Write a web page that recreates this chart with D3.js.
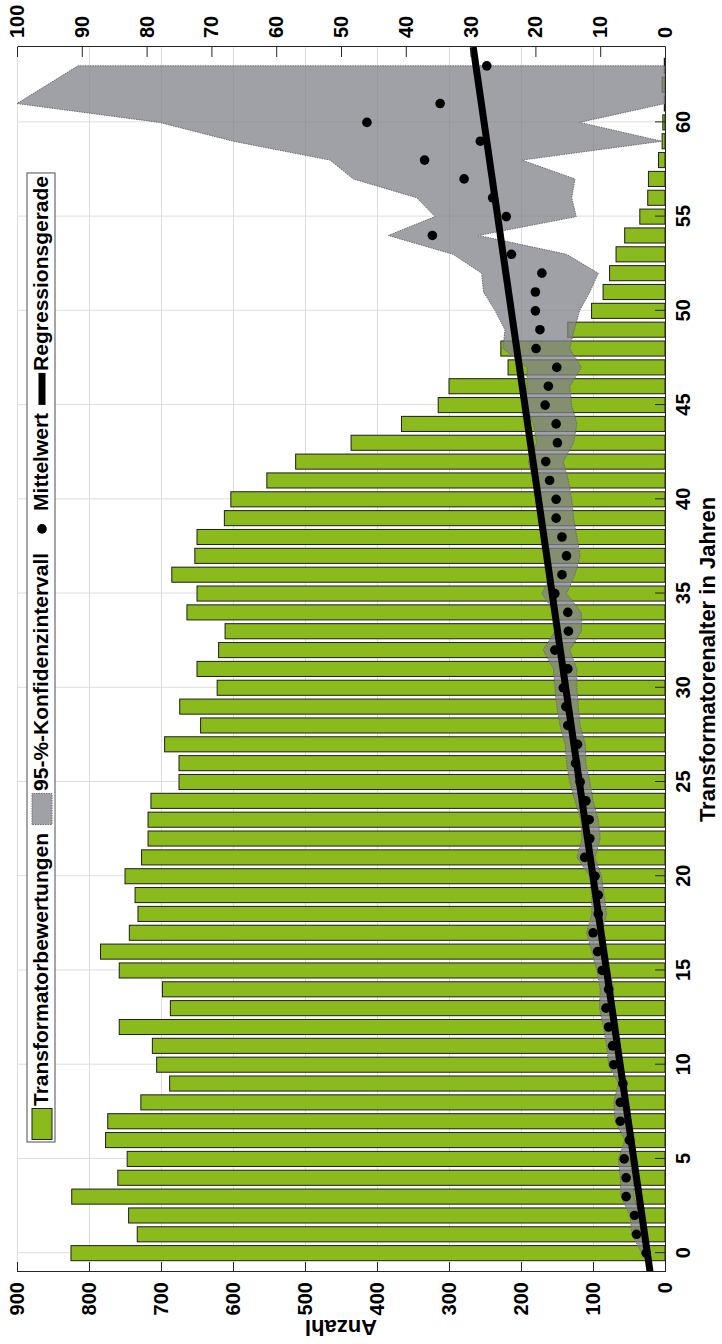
<!DOCTYPE html>
<html>
<head>
<meta charset="utf-8">
<script src="https://cdn.jsdelivr.net/npm/d3@7"></script>
<style>
  body { margin: 0; background: #fff; }
  text { font-family: "Liberation Sans", Arial, sans-serif; font-weight: bold; }
</style>
</head>
<body>
<svg id="chart" width="722" height="1344"></svg>
<script>
// transformer age classes (years)
var ages = d3.range(0, 64)

// number of assessments per age (left axis, "Anzahl")
var anzahl = [825, 733, 745, 824, 760, 747, 777, 774, 728, 688,
              706, 712, 758, 687, 698, 758, 784, 744, 732, 736,
              750, 727, 718, 718, 714, 675, 675, 695, 645, 674,
              622, 650, 620, 611, 664, 650, 685, 653, 650, 612,
              603, 553, 513, 436, 366, 315, 300, 218, 228, 135,
              102, 86, 77, 68, 56, 35, 24, 23, 9, 4,
              3, 1, 4, 1]

// mean value per age (right axis)
var mittelwert = [2.9, 4.4, 4.7, 6.0, 6.0, 6.3, 5.5, 6.9, 6.9, 6.5,
                  7.9, 8.1, 8.7, 9.1, 8.7, 9.7, 10.4, 11.1, 10.3, 10.3,
                  10.8, 12.4, 11.6, 11.7, 12.2, 13.1, 13.8, 13.5, 15.0, 15.3,
                  15.7, 15.0, 17.0, 14.9, 15.0, 17.0, 15.9, 15.2, 15.9, 16.8,
                  16.8, 17.8, 18.4, 16.6, 16.8, 18.5, 18.0, 16.7, 19.9, 19.3,
                  20.0, 20.0, 19.0, 23.7, 35.9, 24.5, 26.6, 31.0, 37.1, 28.5,
                  46.0, 34.7, null, 27.5]

// 95 % confidence interval, upper and lower bound
var ciOben = [3.6, 5.1, 5.4, 6.8, 6.9, 7.2, 6.2, 7.7, 7.9, 7.2,
              8.7, 9.0, 9.5, 10.1, 10.0, 10.5, 11.3, 12.1, 11.3, 11.3,
              11.6, 13.6, 12.8, 13.0, 13.9, 14.7, 15.2, 15.4, 16.2, 16.7,
              17.0, 17.2, 18.8, 17.0, 17.0, 19.0, 17.5, 17.7, 18.4, 19.3,
              19.8, 20.3, 21.1, 19.8, 20.3, 21.6, 21.3, 21.3, 25.0, 24.7,
              26.2, 28.0, 28.3, 32.7, 42.7, 35.5, 38.3, 48.1, 51.7, 66.6,
              78.0, 100, null, 90.6]
var ciUnten = [2.4, 3.6, 3.9, 4.8, 4.9, 5.4, 4.6, 6.0, 6.2, 5.8,
               7.1, 7.4, 7.9, 8.4, 7.9, 8.5, 9.3, 9.8, 9.0, 9.4,
               9.8, 10.8, 10.0, 10.3, 11.1, 11.6, 12.2, 12.3, 13.1, 13.4,
               13.6, 13.6, 14.7, 12.9, 12.9, 15.2, 13.9, 13.1, 13.6, 14.1,
               14.4, 14.9, 15.7, 14.1, 13.6, 14.4, 14.7, 12.9, 14.7, 14.0,
               13.2, 11.6, 10.3, 15.2, 28.8, 13.7, 14.4, 13.9, 22.1, 0.5,
               13.2, 0, null, 0]

// regression line end points (age, value)
var regX = [-1, 64]
var regY = [2.3, 29.6]

var ageTicks = [0, 5, 10, 15, 20, 25, 30, 35, 40, 45, 50, 55, 60]
var anzahlTicks = [0, 100, 200, 300, 400, 500, 600, 700, 800, 900]
var rechtsTicks = [0, 10, 20, 30, 40, 50, 60, 70, 80, 90, 100]
var legendLabels = ["Transformatorbewertungen", "95-%-Konfidenzintervall", "Mittelwert", "Regressionsgerade"]

// the figure is drawn in landscape and then turned by -90 degrees
var width = 1344, height = 722
var margin = {top: 17, right: 47, bottom: 57, left: 72}

var svg = d3.select('#chart')
var g = svg.append('g').attr('transform', 'translate(0,1344) rotate(-90)')

var x = d3.scaleLinear().domain([-1, 64]).range([margin.left, width - margin.right])
var yL = d3.scaleLinear().domain([0, 900]).range([height - margin.bottom, margin.top])
var yR = d3.scaleLinear().domain([0, 100]).range([height - margin.bottom, margin.top])

g.append('clipPath').attr('id', 'plotClip')
  .append('rect')
  .attr('x', margin.left).attr('y', margin.top)
  .attr('width', width - margin.left - margin.right)
  .attr('height', height - margin.top - margin.bottom)

// grid
var grid = g.append('g').attr('stroke', '#dedede').attr('stroke-width', 1)
grid.selectAll('.gx').data(ageTicks).join('line').attr('class', 'gx')
  .attr('x1', d => x(d) + 0.5).attr('x2', d => x(d) + 0.5)
  .attr('y1', yL(0)).attr('y2', yL(900))
grid.selectAll('.gy').data(anzahlTicks.filter(d => d > 0)).join('line').attr('class', 'gy')
  .attr('x1', x(-1)).attr('x2', x(64))
  .attr('y1', d => yL(d) + 0.5).attr('y2', d => yL(d) + 0.5)

// bars
var bw = (x(1) - x(0)) * 0.8
g.append('g').selectAll('rect')
  .data(ages)
  .join('rect')
  .attr('x', d => x(d) - bw / 2)
  .attr('width', bw)
  .attr('y', (d, i) => yL(anzahl[i]))
  .attr('height', (d, i) => yL(0) - yL(anzahl[i]))
  .attr('fill', '#8bba1c')
  .attr('stroke', '#1e1e1e')
  .attr('stroke-width', 1)

var plot = g.append('g').attr('clip-path', 'url(#plotClip)')

// confidence band (age 62 has no value, the band just skips it)
var ciAges = ages.filter(a => ciOben[a] != null)
var area = d3.area()
  .x(d => x(d))
  .y0(d => yR(ciUnten[d]))
  .y1(d => yR(ciOben[d]))
plot.append('path')
  .datum(ciAges)
  .attr('d', area)
  .attr('fill', '#80808a')
  .attr('fill-opacity', 0.75)
  .attr('stroke', '#6a6a6a')
  .attr('stroke-width', 1)
  .attr('stroke-dasharray', '1.5,1')

// means
plot.append('g').selectAll('circle')
  .data(ages.filter(a => mittelwert[a] != null))
  .join('circle')
  .attr('cx', d => x(d))
  .attr('cy', d => yR(mittelwert[d]))
  .attr('r', 4.8)
  .attr('fill', '#000')

// regression line
plot.append('path')
  .datum(regX)
  .attr('d', d3.line().x(d => x(d)).y((d, i) => yR(regY[i])))
  .attr('stroke', '#000')
  .attr('stroke-width', 7)
  .attr('fill', 'none')

// axes
function styleAxis(sel) {
  sel.attr('font-size', null).attr('font-family', null)
  sel.selectAll('text').attr('font-size', 20).attr('fill', '#000')
  sel.selectAll('line, path').attr('stroke', '#262626')
}

g.append('g')
  .attr('transform', 'translate(0,' + (height - margin.bottom) + ')')
  .call(d3.axisBottom(x).tickValues(ageTicks).tickSizeInner(-10).tickSizeOuter(0).tickPadding(11))
  .call(styleAxis)

g.append('g')
  .attr('transform', 'translate(' + margin.left + ',0)')
  .call(d3.axisLeft(yL).tickValues(anzahlTicks).tickSizeInner(-10).tickSizeOuter(0).tickPadding(10))
  .call(styleAxis)

g.append('g')
  .attr('transform', 'translate(' + (width - margin.right) + ',0)')
  .call(d3.axisRight(yR).tickValues(rechtsTicks).tickSizeInner(-10).tickSizeOuter(0).tickPadding(9))
  .call(styleAxis)

// axis titles
g.append('text')
  .attr('x', (margin.left + width - margin.right) / 2)
  .attr('y', 715)
  .attr('text-anchor', 'middle')
  .attr('font-size', 22)
  .text('Transformatorenalter in Jahren')

g.append('text')
  .attr('transform', 'translate(24,' + (margin.top + height - margin.bottom) / 2 + ') rotate(-90)')
  .attr('text-anchor', 'middle')
  .attr('font-size', 22)
  .text('Anzahl')

// legend
var legend = g.append('g').attr('transform', 'translate(202,27)')
var box = legend.append('rect')
  .attr('height', 28)
  .attr('fill', '#fff')
  .attr('stroke', '#4d4d4d')
  .attr('stroke-width', 1)

var cur = 2
legendLabels.forEach(function(label, i) {
  var sw = legend.append('g').attr('transform', 'translate(' + cur + ',0)')
  if (i == 0) {
    sw.append('rect').attr('x', 0.5).attr('y', 5).attr('width', 31).attr('height', 20)
      .attr('fill', '#8bba1c').attr('stroke', '#1e1e1e')
  } else if (i == 1) {
    sw.append('rect').attr('x', 0.5).attr('y', 5).attr('width', 31).attr('height', 20)
      .attr('fill', '#80808a').attr('fill-opacity', 0.75)
      .attr('stroke', '#6a6a6a').attr('stroke-dasharray', '1.5,1')
  } else if (i == 2) {
    sw.append('circle').attr('cx', 16).attr('cy', 15).attr('r', 4.8).attr('fill', '#000')
  } else {
    sw.append('line').attr('x1', 0).attr('x2', 32).attr('y1', 15).attr('y2', 15)
      .attr('stroke', '#000').attr('stroke-width', 7)
  }
  cur += 34
  var t = legend.append('text')
    .attr('x', cur)
    .attr('y', 21)
    .attr('font-size', 21)
    .text(label)
  cur += t.node().getComputedTextLength() + 8
})
box.attr('width', cur - 5)
</script>
</body>
</html>
